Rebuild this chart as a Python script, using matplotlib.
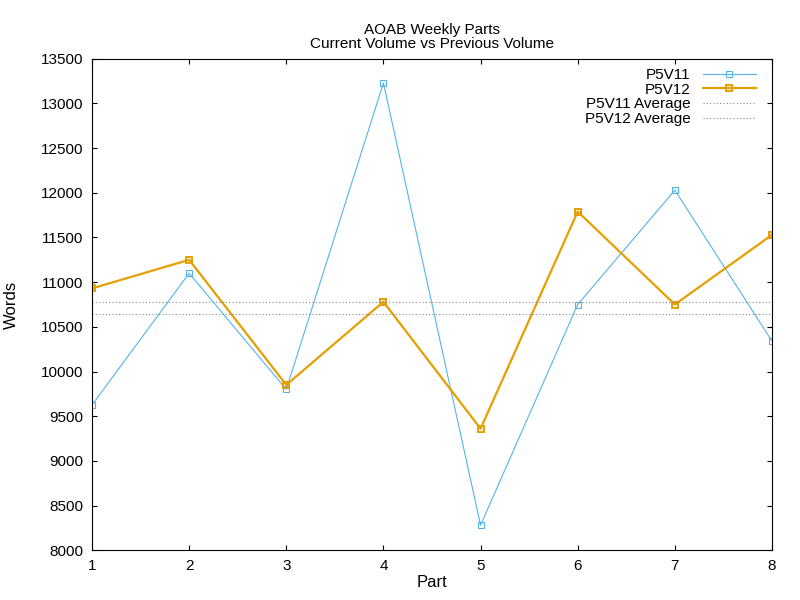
import matplotlib
matplotlib.use("Agg")
import matplotlib.pyplot as plt

parts = [1, 2, 3, 4, 5, 6, 7, 8]
p5v11 = [9625, 11100, 9800, 13230, 8280, 10750, 12030, 10340]
p5v12 = [10930, 11250, 9850, 10780, 9360, 11790, 10750, 11530]
avg11 = 10644
avg12 = 10780

plt.rcParams["font.family"] = "Liberation Sans"
fig = plt.figure(figsize=(8, 6), dpi=100)
ax = fig.add_axes([0.115, 0.083, 0.85, 0.819])
ax.plot(parts, p5v11, color="#56b4e9", lw=0.8, marker="s", ms=5, mfc="none", mew=0.8, label="P5V11")
ax.plot(parts, p5v12, color="#e69f00", lw=1.6, marker="s", ms=5, mfc="none", mew=1.4, label="P5V12")
ax.axhline(avg11, color="#56b4e9", lw=0.8, ls=(0, (1, 2)), label="P5V11 Average")
ax.axhline(avg12, color="#888888", lw=0.8, ls=(0, (1, 2)), label="P5V12 Average")
ax.lines[-2].set_color("#888888")
ax.set_xlim(1, 8)
ax.set_ylim(8000, 13500)
ax.set_yticks(range(8000, 13501, 500))
ax.set_xticks(parts)
ax.tick_params(direction="in", top=True, right=True, labelsize=11, pad=6)
ax.set_xlabel("Part", fontsize=12, labelpad=2)
ax.set_ylabel("Words", fontsize=12, labelpad=16)
ax.set_title("AOAB Weekly Parts\nCurrent Volume vs Previous Volume", fontsize=11, pad=8, linespacing=1.0)
leg = ax.legend(loc="upper right", frameon=False, markerfirst=False, fontsize=11,
                handlelength=3.5, borderpad=0.1, labelspacing=0.05, handletextpad=0.8,
                bbox_to_anchor=(0.99, 1.0))
for t in leg.get_texts():
    t.set_ha("right")
fig.savefig("out.png")
